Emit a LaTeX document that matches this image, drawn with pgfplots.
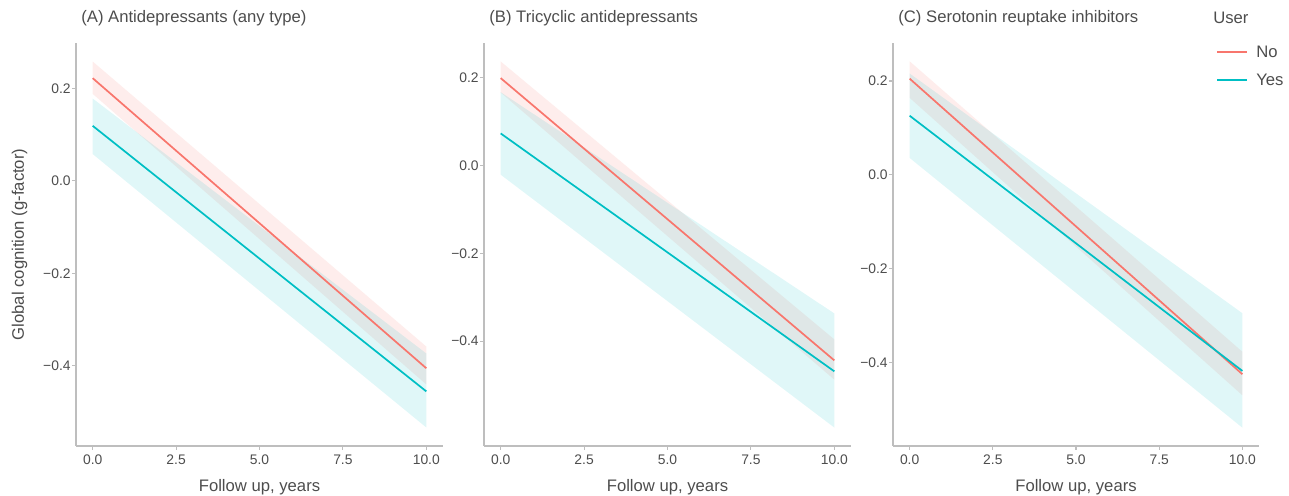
\documentclass[border=0pt]{standalone}
\usepackage{fontspec}
\setmainfont{Liberation Sans}
\usepackage{pgfplots}
\pgfplotsset{compat=1.18}
\definecolor{cNo}{HTML}{F8766D}
\definecolor{cYes}{HTML}{00BFC4}
\definecolor{axgray}{HTML}{BEBEBE}
\definecolor{txt}{HTML}{4D4D4D}
\pgfplotsset{
  panel/.style={
    scale only axis, height=302.25pt,
    axis x line*=bottom, axis y line*=left,
    axis line style={axgray, line width=0.8pt, -},
    every tick/.style={axgray, line width=0.8pt},
    major tick length=3pt, tick align=outside,
    xmin=-0.5, xmax=10.5,
    xtick={0,2.5,5,7.5,10}, xticklabels={0.0,2.5,5.0,7.5,10.0},
    ytick={-0.4,-0.2,0,0.2}, yticklabels={−0.4,−0.2,0.0,0.2},
    tick label style={font=\fontsize{10.4}{12}\selectfont, text=txt},
    yticklabel style={xshift=2.5pt},
    title style={at={(axis description cs:0,1)}, anchor=base west, yshift=9pt, xshift=0.5pt, font=\fontsize{12.5}{15}\selectfont, text=txt},
    xlabel={Follow up, years},
    xlabel style={at={(axis description cs:0.5,0)}, anchor=base, yshift=-34.5pt, font=\fontsize{12.5}{15}\selectfont, text=txt},
    ylabel style={font=\fontsize{12.5}{15}\selectfont, text=txt},
  },
  bNo/.style={draw=none, fill=cNo, fill opacity=0.13, forget plot},
  bYes/.style={draw=none, fill=cYes, fill opacity=0.12, forget plot},
  lNo/.style={cNo, line width=1.3pt, no marks},
  lYes/.style={cYes, line width=1.3pt, no marks},
}
\begin{document}
\begin{tikzpicture}[x=0.75pt,y=0.75pt]
\path[use as bounding box] (0,0) rectangle (1289,496);
% Panel A
\begin{axis}[panel, width=275.25pt, at={(57pt,37.5pt)}, anchor=south west,
  ymin=-0.573, ymax=0.298,
  title={(A) Antidepressants (any type)},
  ylabel={Global cognition (g-factor)},
  ylabel style={at={(axis description cs:-0.1417,0.5)}, anchor=base}]
\addplot[bNo] coordinates {(0,0.258) (10,-0.358) (10,-0.440) (0,0.188)};
\addplot[bYes] coordinates {(0,0.178) (10,-0.373) (10,-0.533) (0,0.058)};
\addplot[lNo] coordinates {(0,0.222) (10,-0.405)};
\addplot[lYes] coordinates {(0,0.119) (10,-0.455)};
\end{axis}
% Panel B
\begin{axis}[panel, width=275.25pt, at={(363pt,37.5pt)}, anchor=south west,
  ymin=-0.639, ymax=0.279,
  title={(B) Tricyclic antidepressants}]
\addplot[bNo] coordinates {(0,0.237) (10,-0.396) (10,-0.488) (0,0.166)};
\addplot[bYes] coordinates {(0,0.167) (10,-0.337) (10,-0.597) (0,-0.021)};
\addplot[lNo] coordinates {(0,0.199) (10,-0.444)};
\addplot[lYes] coordinates {(0,0.073) (10,-0.469)};
\end{axis}
% Panel C
\begin{axis}[panel, width=274.5pt, at={(669.75pt,37.5pt)}, anchor=south west,
  ymin=-0.578, ymax=0.281,
  title={(C) Serotonin reuptake inhibitors}]
\addplot[bNo] coordinates {(0,0.242) (10,-0.377) (10,-0.470) (0,0.164)};
\addplot[bYes] coordinates {(0,0.216) (10,-0.295) (10,-0.539) (0,0.036)};
\addplot[lNo] coordinates {(0,0.205) (10,-0.425)};
\addplot[lYes] coordinates {(0,0.126) (10,-0.418)};
\end{axis}
% Legend
\node[anchor=base west, text=txt, font=\fontsize{12.5}{15}\selectfont, inner sep=0pt] at (1213,472) {User};
\draw[cNo, line width=1.3pt] (1217,444) -- (1247,444);
\draw[cYes, line width=1.3pt] (1217,416) -- (1247,416);
\node[anchor=base west, text=txt, font=\fontsize{12.5}{15}\selectfont, inner sep=0pt] at (1256,438) {No};
\node[anchor=base west, text=txt, font=\fontsize{12.5}{15}\selectfont, inner sep=0pt] at (1256,410) {Yes};
\end{tikzpicture}
\end{document}
